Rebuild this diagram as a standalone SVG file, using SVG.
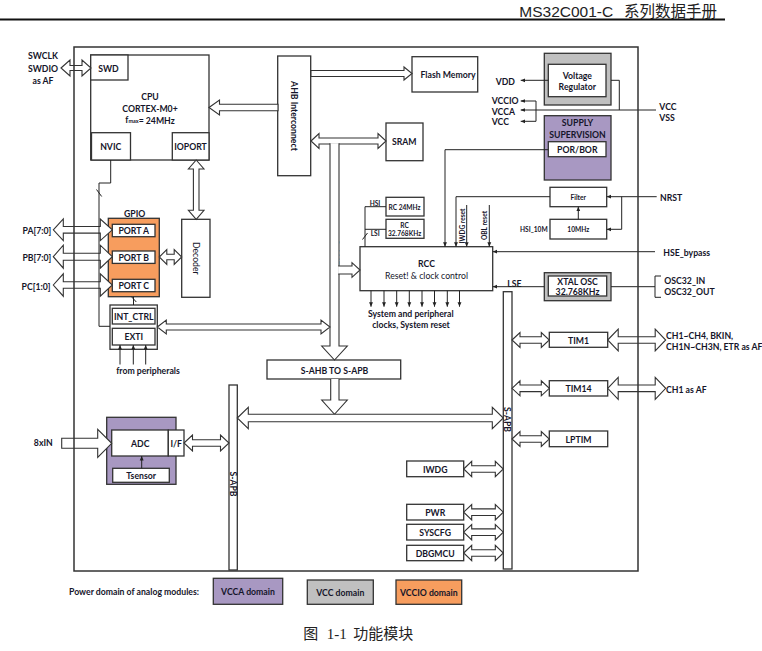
<svg xmlns="http://www.w3.org/2000/svg" width="762" height="651" viewBox="0 0 762 651">
<defs>
<marker id="ah" viewBox="0 0 6 6" refX="6" refY="3" markerWidth="4.5" markerHeight="4.5" orient="auto" markerUnits="userSpaceOnUse"><path d="M0,0.4 L6,3 L0,5.6 z" fill="#222"/></marker>
</defs>
<style>
.b{fill:#fff;stroke:#333;stroke-width:1.3}
.pu{fill:#a898c2;stroke:#333;stroke-width:1.3}
.gr{fill:#c0c0c0;stroke:#333;stroke-width:1.3}
.or{fill:#f79d5e;stroke:#333;stroke-width:1.3}
.ar{fill:#fff;stroke:#333;stroke-width:1.1;stroke-linejoin:miter}
.ln{fill:none;stroke:#222;stroke-width:1}
.lm{fill:none;stroke:#222;stroke-width:1;marker-end:url(#ah)}
.t{font-family:Lato,"Liberation Sans",sans-serif;font-weight:bold;font-size:8.7px;fill:#15152a;text-anchor:middle;dominant-baseline:central}
.s{font-size:6.6px}
.l{text-anchor:start}
.r{text-anchor:end}
.n{font-weight:normal}
</style>
<rect width="762" height="651" fill="#fff"/>

<!-- header -->
<g id="header">
<text font-family="'Liberation Sans','Noto Sans CJK SC',sans-serif" font-size="15.5" fill="#222" y="16.5"><tspan x="519.3">MS32C001-C</tspan> <tspan x="624">系列数据手册</tspan></text>
<line x1="0" y1="19.5" x2="725" y2="19.5" stroke="#111" stroke-width="2"/>
</g>

<!-- buses -->
<g id="s-apb-left"><rect class="b" x="229" y="385" width="8.3" height="185"/><text class="t" transform="translate(233.2,484) rotate(90)">S-APB</text></g>
<g id="s-apb-right"><rect class="b" x="503.3" y="291.7" width="8.7" height="277.3"/><text class="t" transform="translate(507.8,419.5) rotate(90)">S-APB</text></g>

<!-- nodes -->
<g id="cpu"><rect class="b" x="90.7" y="55" width="118.3" height="105"/>
<text class="t" x="150" y="96">CPU</text><text class="t" x="150" y="108.3">CORTEX-M0+</text>
<text class="t" x="150" y="119.5">f<tspan font-size="5.5" dy="1.8">max</tspan><tspan dy="-1.8">= 24MHz</tspan></text></g>
<g id="swd"><rect class="b" x="90.7" y="55" width="37.3" height="25"/><text class="t" x="108.5" y="68">SWD</text></g>
<g id="nvic"><rect class="b" x="91.5" y="132.7" width="39" height="27.3"/><text class="t" x="110.7" y="146.3">NVIC</text></g>
<g id="ioport"><rect class="b" x="172.3" y="132.7" width="36.7" height="27.3"/><text class="t" x="190.5" y="146.3">IOPORT</text></g>
<g id="ahb"><rect class="b" x="277.7" y="56" width="33" height="119.7"/><text class="t" transform="translate(294.2,116) rotate(90)">AHB Interconnect</text></g>
<g id="flash"><rect class="b" x="412" y="56.7" width="65.7" height="35.3"/><text class="t" x="448" y="74">Flash Memory</text></g>
<g id="sram"><rect class="b" x="386" y="123" width="37" height="37.7"/><text class="t" x="404.3" y="141.5">SRAM</text></g>
<g id="regulator"><rect class="gr" x="544.3" y="53.3" width="66.7" height="51.7"/><rect class="b" x="548.3" y="64.3" width="57.7" height="32.4"/>
<text class="t" x="577.3" y="75">Voltage</text><text class="t" x="577.3" y="86">Regulator</text></g>
<g id="supervision"><rect class="pu" x="544.3" y="115.7" width="66.7" height="64.3"/><text class="t" x="577.5" y="122.3">SUPPLY</text><text class="t" x="577.5" y="134">SUPERVISION</text>
<rect class="b" x="548.3" y="141.7" width="57.7" height="15"/><text class="t" x="577.3" y="149.3">POR/BOR</text></g>
<g id="filter"><rect class="b" x="550" y="187.3" width="56.7" height="19.4"/><text class="t s" x="578.3" y="197">Filter</text></g>
<g id="osc10m"><rect class="b" x="550" y="219.3" width="56.7" height="19.7"/><text class="t s" x="578.3" y="229.2">10MHz</text><text class="t s l" x="520" y="229.2">HSI_10M</text></g>
<g id="rc24"><rect class="b" x="386" y="197.3" width="38" height="18.7"/><text class="t s" x="404.6" y="207.2">RC 24MHz</text></g>
<g id="rc32"><rect class="b" x="386" y="219.3" width="38" height="19"/><text class="t s" x="404.6" y="224.5">RC</text><text class="t s" x="404.6" y="233.4">32.768KHz</text></g>
<g id="rcc"><rect class="b" x="360" y="246.7" width="132.7" height="44"/><text class="t" x="426.5" y="263.3">RCC</text><text class="t n" x="426.5" y="275.2">Reset! &amp; clock control</text></g>
<g id="xtal"><rect class="gr" x="544.3" y="272.7" width="66.7" height="28"/><rect class="b" x="548.3" y="276" width="58.4" height="20"/>
<text class="t" x="577.5" y="281">XTAL OSC</text><text class="t" x="577.5" y="291.8">32.768KHz</text></g>
<g id="gpio"><rect class="or" x="108.3" y="218.3" width="51" height="78.4"/><text class="t" x="134.7" y="213.3">GPIO</text></g>
<g id="porta"><rect class="b" x="112.3" y="224.3" width="42.7" height="12.4"/><text class="t" x="133.7" y="230.5">PORT A</text></g>
<g id="portb"><rect class="b" x="112.3" y="251" width="42.7" height="12.4"/><text class="t" x="133.7" y="257.3">PORT B</text></g>
<g id="portc"><rect class="b" x="112.3" y="279.3" width="42.7" height="12.4"/><text class="t" x="133.7" y="285.7">PORT C</text></g>
<g id="decoder"><rect class="b" x="181.7" y="219.3" width="28.3" height="78"/><text class="t n" transform="translate(196,258.3) rotate(90)">Decoder</text></g>
<g id="intctrl"><rect class="b" x="110" y="305" width="47.3" height="44.3"/>
<rect class="b" x="112.3" y="308.3" width="42.7" height="15.7"/><text class="t" x="133.7" y="316.5">INT_CTRL</text>
<rect class="b" x="112.3" y="328.3" width="42.7" height="16.7"/><text class="t" x="133.7" y="336.8">EXTI</text></g>
<g id="bridge"><rect class="b" x="267" y="360" width="133.7" height="19"/><text class="t" x="334.5" y="370">S-AHB TO S-APB</text></g>
<g id="adc"><rect class="pu" x="106.7" y="417.3" width="69.3" height="67"/>
<rect class="b" x="111.7" y="430" width="56.6" height="26"/><text class="t" x="140.2" y="443.3">ADC</text>
<rect class="b" x="168.3" y="430" width="15.7" height="26"/><text class="t" x="176.2" y="443.3">I/F</text>
<rect class="b" x="112.7" y="468.3" width="56.6" height="14"/><text class="t" x="141.2" y="475.8">Tsensor</text></g>
<g id="tim1"><rect class="b" x="549.3" y="332.3" width="58.4" height="15"/><text class="t" x="578.5" y="340">TIM1</text></g>
<g id="tim14"><rect class="b" x="549.3" y="380.7" width="58.4" height="15.3"/><text class="t" x="578.5" y="388.5">TIM14</text></g>
<g id="lptim"><rect class="b" x="549.3" y="431" width="58.4" height="15.7"/><text class="t" x="578.5" y="439">LPTIM</text></g>
<g id="iwdg"><rect class="b" x="406.7" y="461" width="57" height="15.7"/><text class="t" x="435.2" y="469">IWDG</text></g>
<g id="pwr"><rect class="b" x="406.7" y="504.3" width="57" height="15.7"/><text class="t" x="435.2" y="512.2">PWR</text></g>
<g id="syscfg"><rect class="b" x="406.7" y="524.3" width="57" height="15.7"/><text class="t" x="435.2" y="532.2">SYSCFG</text></g>
<g id="dbgmcu"><rect class="b" x="406.7" y="545.3" width="57" height="15.4"/><text class="t" x="435.2" y="553">DBGMCU</text></g>

<!-- external labels -->
<g id="labels">
<text class="t" x="43" y="55">SWCLK</text><text class="t" x="43" y="68">SWDIO</text><text class="t" x="43" y="80.3">as AF</text>
<text class="t l" x="495.7" y="81">VDD</text>
<text class="t l" x="491.7" y="100.8">VCCIO</text><text class="t l" x="491.7" y="111">VCCA</text><text class="t l" x="491.7" y="121.3">VCC</text>
<text class="t l" x="659.3" y="106.4" font-size="8.3">VCC</text><text class="t l" x="659.3" y="117" font-size="8.3">VSS</text>
<text class="t l" x="660" y="197.3">NRST</text>
<text class="t l" x="663.3" y="252.7">HSE_bypass</text>
<text class="t l" x="664.3" y="280.8">OSC32_IN</text><text class="t l" x="664.3" y="291.8">OSC32_OUT</text>
<text class="t l" x="507.3" y="283.3">LSE</text>
<text class="t s" x="375" y="202.8">HSI</text><text class="t s" x="375.2" y="232.7">LSI</text>
<text class="t s" transform="translate(461.7,226) rotate(-90)">IWDG reset</text>
<text class="t s" transform="translate(484,225.5) rotate(-90)">OBL reset</text>
<text class="t" x="410.8" y="313.3">System and peripheral</text><text class="t" x="411" y="324.3">clocks, System reset</text>
<text class="t" transform="translate(335,253) rotate(90)">S-AHB</text>
<text class="t r" x="51.3" y="230.3">PA[7:0]</text><text class="t r" x="51.3" y="257.3">PB[7:0]</text><text class="t r" x="50.5" y="286">PC[1:0]</text>
<text class="t" x="148" y="370.3">from peripherals</text>
<text class="t r" x="52.7" y="442.5">8xIN</text>
<text class="t l" x="666" y="335">CH1~CH4, BKIN,</text><text class="t l" x="666" y="346.3" font-size="8.4">CH1N~CH3N, ETR  as AF</text>
<text class="t l" x="666" y="389">CH1 as AF</text>
</g>

<!-- connectors -->
<g id="connectors">
<polygon class="ar" points="61,68 70,60 70,65.5 82,65.5 82,60 91,68 82,76 82,70.5 70,70.5 70,76"/>
<polygon class="ar" points="209,107.5 219.5,100 219.5,104.2 278,104.2 278,110.8 219.5,110.8 219.5,115"/>
<polygon class="ar" points="311,70.5 404,70.5 404,67 412,73.5 404,80 404,76.5 311,76.5"/>
<polygon class="ar" points="311,141 319,133.5 319,138 378,138 378,133.5 386,141 378,148.5 378,144 319,144 319,148.5"/>
<polyline class="ar" points="330,143.2 330,346 321.7,346 334.5,360 347.3,346 339,346 339,143.2"/>
<polyline class="ar" points="338.2,266 352,266 352,262.7 360,270 352,277.3 352,274 338.2,274"/>
<polyline class="ar" points="330.7,379 330.7,400 321.7,400 334.5,414.3 347.3,400 339,400 339,379"/>
<polygon class="ar" points="237.3,418 248.3,407.3 248.3,414.2 492.3,414.2 492.3,407.3 503.3,418 492.3,428.7 492.3,421.8 248.3,421.8 248.3,428.7"/>
<polygon class="ar" points="157.3,327 166.3,320 166.3,324 321,324 321,320 330,327 321,334 321,330 166.3,330 166.3,334"/>
<polygon class="ar" points="53.3,229.8 63.3,219 63.3,226.5 100.3,226.5 100.3,219 112.3,229.8 100.3,240.6 100.3,233.1 63.3,233.1 63.3,240.6"/>
<polygon class="ar" points="53.3,256.7 63.3,245.2 63.3,253.2 100.3,253.2 100.3,245.2 112.3,256.7 100.3,268.2 100.3,260.2 63.3,260.2 63.3,268.2"/>
<polygon class="ar" points="53.3,285 63.3,273.8 63.3,281.7 100.3,281.7 100.3,273.8 112.3,285 100.3,296.2 100.3,288.3 63.3,288.3 63.3,296.2"/>
<polygon class="ar" points="159.3,257 166.8,249.5 166.8,254.2 174.2,254.2 174.2,249.5 181.7,257 174.2,264.5 174.2,259.8 166.8,259.8 166.8,264.5"/>
<polygon class="ar" points="196.2,160 204,169 199,169 199,210.3 204,210.3 196.2,219.3 188.4,210.3 193.4,210.3 193.4,169 188.4,169"/>
<polygon class="ar" points="61.7,438.3 97.7,438.3 97.7,429.3 111.7,443.3 97.7,457.3 97.7,448.3 61.7,448.3"/>
<polygon class="ar" points="184,443 192.5,435 192.5,439.7 220.5,439.7 220.5,435 229,443 220.5,451 220.5,446.3 192.5,446.3 192.5,451"/>
<polygon class="ar" points="512,340 520,332.5 520,336.7 541.3,336.7 541.3,332.5 549.3,340 541.3,347.5 541.3,343.3 520,343.3 520,347.5"/>
<polygon class="ar" points="512,388.3 520,380.8 520,385 541.3,385 541.3,380.8 549.3,388.3 541.3,395.8 541.3,391.6 520,391.6 520,395.8"/>
<polygon class="ar" points="512,439 520,431.5 520,435.7 541.3,435.7 541.3,431.5 549.3,439 541.3,446.5 541.3,442.3 520,442.3 520,446.5"/>
<polygon class="ar" points="607.7,340 618.2,329 618.2,336.7 655.2,336.7 655.2,329 665.7,340 655.2,351 655.2,343.3 618.2,343.3 618.2,351"/>
<polygon class="ar" points="607.7,388.3 618.2,377.3 618.2,385 655.2,385 655.2,377.3 665.7,388.3 655.2,399.3 655.2,391.6 618.2,391.6 618.2,399.3"/>
<polygon class="ar" points="463.7,469 471.7,461.3 471.7,465.7 495.3,465.7 495.3,461.3 503.3,469 495.3,476.7 495.3,472.3 471.7,472.3 471.7,476.7"/>
<polygon class="ar" points="463.7,512.2 471.7,504.5 471.7,508.9 495.3,508.9 495.3,504.5 503.3,512.2 495.3,519.9 495.3,515.5 471.7,515.5 471.7,519.9"/>
<polygon class="ar" points="463.7,532.2 471.7,524.5 471.7,528.9 495.3,528.9 495.3,524.5 503.3,532.2 495.3,539.9 495.3,535.5 471.7,535.5 471.7,539.9"/>
<polygon class="ar" points="463.7,553 471.7,545.3 471.7,549.7 495.3,549.7 495.3,545.3 503.3,553 495.3,560.7 495.3,556.3 471.7,556.3 471.7,560.7"/>

<polyline class="ln" points="110.7,160 110.7,183 99,183 99,326.3 110,326.3"/>
<line class="ln" x1="96.5" y1="189.5" x2="101.7" y2="196.5"/>
<line class="ln" x1="133.5" y1="296.7" x2="133.5" y2="305"/>
<line class="ln" x1="131.3" y1="296.5" x2="136.3" y2="302"/>
<line class="lm" x1="120" y1="364.5" x2="120" y2="345"/>
<line class="lm" x1="133.3" y1="364.5" x2="133.3" y2="345"/>
<line class="lm" x1="145.7" y1="364.5" x2="145.7" y2="345"/>
<line class="lm" x1="141.7" y1="468.3" x2="141.7" y2="456"/>
<polyline class="ln" points="386,206.7 365,206.7 365,246.7"/>
<line class="ln" x1="365" y1="229.3" x2="386" y2="229.3"/>
<line class="ln" x1="362.5" y1="239.5" x2="367.5" y2="233"/>
<polyline class="lm" points="548.3,149.7 445,149.7 445,246.7"/>
<polyline class="lm" points="550,196.7 456,196.7 456,246.7"/>
<line class="lm" x1="466.7" y1="205" x2="466.7" y2="246.7"/>
<line class="lm" x1="489.3" y1="205" x2="489.3" y2="246.7"/>
<line class="lm" x1="655" y1="251.7" x2="492.7" y2="251.7"/>
<line class="lm" x1="544.3" y1="286.7" x2="492.7" y2="286.7"/>
<line class="ln" x1="611" y1="286.7" x2="655" y2="286.7"/>
<polyline class="ln" points="661,276 655,276 655,297.3 661,297.3"/>
<line class="lm" x1="371" y1="290.7" x2="371" y2="306.7"/>
<line class="lm" x1="384" y1="290.7" x2="384" y2="306.7"/>
<line class="lm" x1="396.7" y1="290.7" x2="396.7" y2="306.7"/>
<line class="lm" x1="409.3" y1="290.7" x2="409.3" y2="306.7"/>
<line class="lm" x1="422" y1="290.7" x2="422" y2="306.7"/>
<line class="lm" x1="434.5" y1="290.7" x2="434.5" y2="306.7"/>
<line class="lm" x1="447.3" y1="290.7" x2="447.3" y2="306.7"/>
<line class="lm" x1="459.5" y1="290.7" x2="459.5" y2="306.7"/>
<line class="lm" x1="548.3" y1="80.3" x2="520.7" y2="80.3"/>
<polyline class="ln" points="611,80.3 619.3,80.3 619.3,110"/>
<line class="lm" x1="656" y1="110" x2="520.7" y2="110"/>
<line class="ln" x1="536" y1="101" x2="536" y2="121.3"/>
<line class="lm" x1="536" y1="101" x2="520.7" y2="101"/>
<line class="lm" x1="536" y1="121.3" x2="520.7" y2="121.3"/>
<line class="lm" x1="656.7" y1="196.7" x2="606.7" y2="196.7"/>
<polyline class="lm" points="621.7,196.7 621.7,229.3 606.7,229.3"/>
<line class="lm" x1="578.3" y1="219.3" x2="578.3" y2="206.7"/>
</g>

<!-- frame -->
<rect x="74" y="47" width="564" height="524" fill="none" stroke="#333" stroke-width="1.5"/>

<!-- legend -->
<g id="legend">
<text class="t l" x="69" y="591.7">Power domain of analog modules:</text>
<g id="vcca-domain"><rect class="pu" x="213.3" y="578.3" width="69.4" height="26"/><text class="t" x="248" y="591.5">VCCA domain</text></g>
<g id="vcc-domain"><rect class="gr" x="307.3" y="580" width="66" height="24.3"/><text class="t" x="340.3" y="592">VCC domain</text></g>
<g id="vccio-domain"><rect class="or" x="396" y="580" width="65.7" height="24.3"/><text class="t" x="428.8" y="592">VCCIO domain</text></g>
</g>

<g id="caption"><text font-family="'Liberation Serif','Noto Sans CJK SC',serif" font-size="15" fill="#222" y="638.5"><tspan x="303.3">图</tspan> <tspan x="326.7">1-1</tspan> <tspan x="353.3">功能模块</tspan></text></g>
</svg>
